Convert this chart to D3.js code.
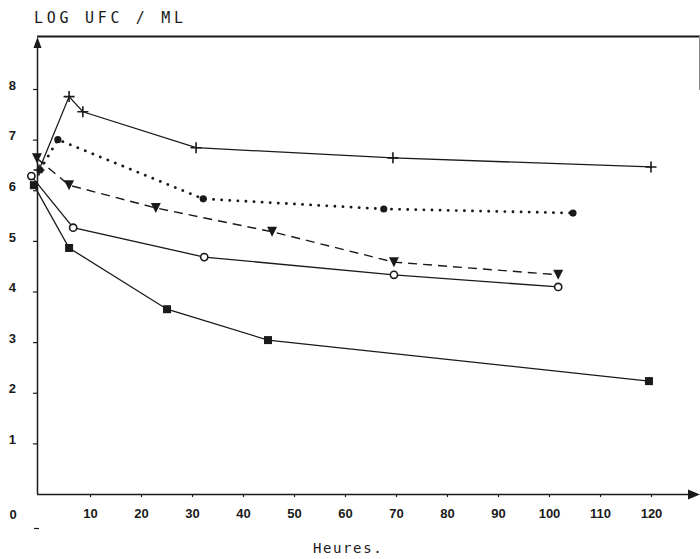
<!DOCTYPE html>
<html>
<head>
<meta charset="utf-8">
<script src="https://cdn.jsdelivr.net/npm/d3@7"></script>
<style>
  html, body { margin: 0; padding: 0; background: #fff; }
  svg { display: block; }
</style>
</head>
<body>
<svg id="chart" width="700" height="559"></svg>
<script>
// Bacterial counts (log UFC/mL) over time (hours), five conditions
const crossHours   = [0, 5.9, 8.6, 30.8, 69.4, 120];
const crossValues  = [6.4, 7.85, 7.55, 6.84, 6.64, 6.46];

const dotHours     = [0.2, 3.7, 32.2, 67.6, 104.7];
const dotValues    = [6.4, 7.0, 5.83, 5.63, 5.55];

const triHours     = [-0.4, 5.9, 22.9, 45.7, 69.6, 101.8];
const triValues    = [6.63, 6.1, 5.65, 5.18, 4.58, 4.33];

const ringHours    = [-1.5, 6.7, 32.4, 69.6, 101.8];
const ringValues   = [6.28, 5.26, 4.68, 4.33, 4.09];

const squareHours  = [-1, 5.9, 25.1, 44.9, 119.6];
const squareValues = [6.1, 4.86, 3.65, 3.04, 2.23];

const xTicks = [10, 20, 30, 40, 50, 60, 70, 80, 90, 100, 110, 120];
const yTicks = [1, 2, 3, 4, 5, 6, 7, 8];

const svg = d3.select("#chart");
const ink = "#1a1a1a";

const x = d3.scaleLinear().domain([0, 120]).range([39, 651]);
const y = d3.scaleLinear().domain([0, 8]).range([494, 89]);

const zip = (hs, vs) => hs.map((h, i) => ({ h, v: vs[i] }));
const line = d3.line().x(d => x(d.h)).y(d => y(d.v));

// Frame line along the top and the stub on the right
svg.append("line").attr("x1", 37).attr("x2", 700).attr("y1", 36.5).attr("y2", 36.5)
  .attr("stroke", ink).attr("stroke-width", 1.8);
svg.append("line").attr("x1", 699.5).attr("x2", 699.5).attr("y1", 36).attr("y2", 90)
  .attr("stroke", "#888").attr("stroke-width", 1);

// Axis lines with arrowheads
svg.append("line").attr("x1", 37.5).attr("x2", 37.5).attr("y1", 494).attr("y2", 44)
  .attr("stroke", ink).attr("stroke-width", 1.5);
svg.append("path").attr("d", "M37.5,37 L33.5,48 L41.5,48 Z").attr("fill", ink);
svg.append("line").attr("x1", 37).attr("x2", 692).attr("y1", 494.5).attr("y2", 494.5)
  .attr("stroke", ink).attr("stroke-width", 1.5);
svg.append("path").attr("d", "M700,494.5 L688,489.5 L688,499.5 Z").attr("fill", ink);

// Y axis ticks and labels
const yAxis = svg.append("g").attr("transform", "translate(37,0)")
  .call(d3.axisLeft(y).tickValues(yTicks).tickSize(4).tickPadding(17).tickFormat(d3.format("d")));
yAxis.select(".domain").remove();
yAxis.selectAll(".tick line").attr("stroke", ink).attr("stroke-width", 1.2);
yAxis.selectAll(".tick text").attr("y", -4)
  .attr("font-family", "Liberation Sans, Arial, sans-serif").attr("font-size", 13)
  .attr("font-weight", "bold").attr("fill", ink);

// X axis ticks and labels
const xAxis = svg.append("g").attr("transform", "translate(0,494)")
  .call(d3.axisBottom(x).tickValues(xTicks).tickSize(3).tickPadding(12).tickFormat(d3.format("d")));
xAxis.select(".domain").remove();
xAxis.selectAll(".tick line").attr("stroke", ink).attr("stroke-width", 1.2);
xAxis.selectAll(".tick text")
  .attr("font-family", "Liberation Sans, Arial, sans-serif").attr("font-size", 13)
  .attr("font-weight", "bold").attr("fill", ink);

// Origin label
svg.append("text").attr("x", 13).attr("y", 519).attr("text-anchor", "middle")
  .attr("font-family", "Liberation Sans, Arial, sans-serif").attr("font-size", 13)
  .attr("font-weight", "bold").attr("fill", ink).text("0");
svg.append("line").attr("x1", 34).attr("x2", 39).attr("y1", 528.5).attr("y2", 528.5)
  .attr("stroke", ink).attr("stroke-width", 1.2);

// Titles
svg.append("text").attr("x", 34).attr("y", 23)
  .attr("font-family", "DejaVu Sans Mono, monospace").attr("font-size", 15)
  .attr("letter-spacing", 3.7).attr("fill", ink).text("LOG UFC / ML");
svg.append("text").attr("x", 313).attr("y", 553)
  .attr("font-family", "DejaVu Sans Mono, monospace").attr("font-size", 14)
  .attr("letter-spacing", 1.6).attr("fill", ink).text("Heures.");

// Series lines
const series = [
  { pts: zip(crossHours, crossValues),  dash: null,      width: 1.3, cap: "butt" },
  { pts: zip(dotHours, dotValues),      dash: "0.1 8",   width: 2.8, cap: "round" },
  { pts: zip(triHours, triValues),      dash: "9 6",     width: 1.4, cap: "butt" },
  { pts: zip(ringHours, ringValues),    dash: null,      width: 1.3, cap: "butt" },
  { pts: zip(squareHours, squareValues), dash: null,     width: 1.3, cap: "butt" }
];
series.forEach(s => {
  svg.append("path").datum(s.pts).attr("d", line)
    .attr("fill", "none").attr("stroke", ink).attr("stroke-width", s.width)
    .attr("stroke-linecap", s.cap).attr("stroke-dasharray", s.dash);
});

// Markers
const gCross = svg.append("g");
gCross.selectAll("path").data(series[0].pts).join("path")
  .attr("d", d => `M${x(d.h) - 5.5},${y(d.v)} h11 M${x(d.h)},${y(d.v) - 5.5} v11`)
  .attr("stroke", ink).attr("stroke-width", 1.6).attr("fill", "none");

svg.append("g").selectAll("circle").data(series[1].pts).join("circle")
  .attr("cx", d => x(d.h)).attr("cy", d => y(d.v)).attr("r", 3.6).attr("fill", ink);

svg.append("g").selectAll("path").data(series[2].pts).join("path")
  .attr("d", d => `M${x(d.h) - 5},${y(d.v) - 5} h10 l-5,10 Z`).attr("fill", ink);

svg.append("g").selectAll("circle").data(series[3].pts).join("circle")
  .attr("cx", d => x(d.h)).attr("cy", d => y(d.v)).attr("r", 3.6)
  .attr("fill", "#fff").attr("stroke", ink).attr("stroke-width", 1.6);

svg.append("g").selectAll("rect").data(series[4].pts).join("rect")
  .attr("x", d => x(d.h) - 4).attr("y", d => y(d.v) - 4).attr("width", 8).attr("height", 8)
  .attr("fill", ink);
</script>
</body>
</html>
